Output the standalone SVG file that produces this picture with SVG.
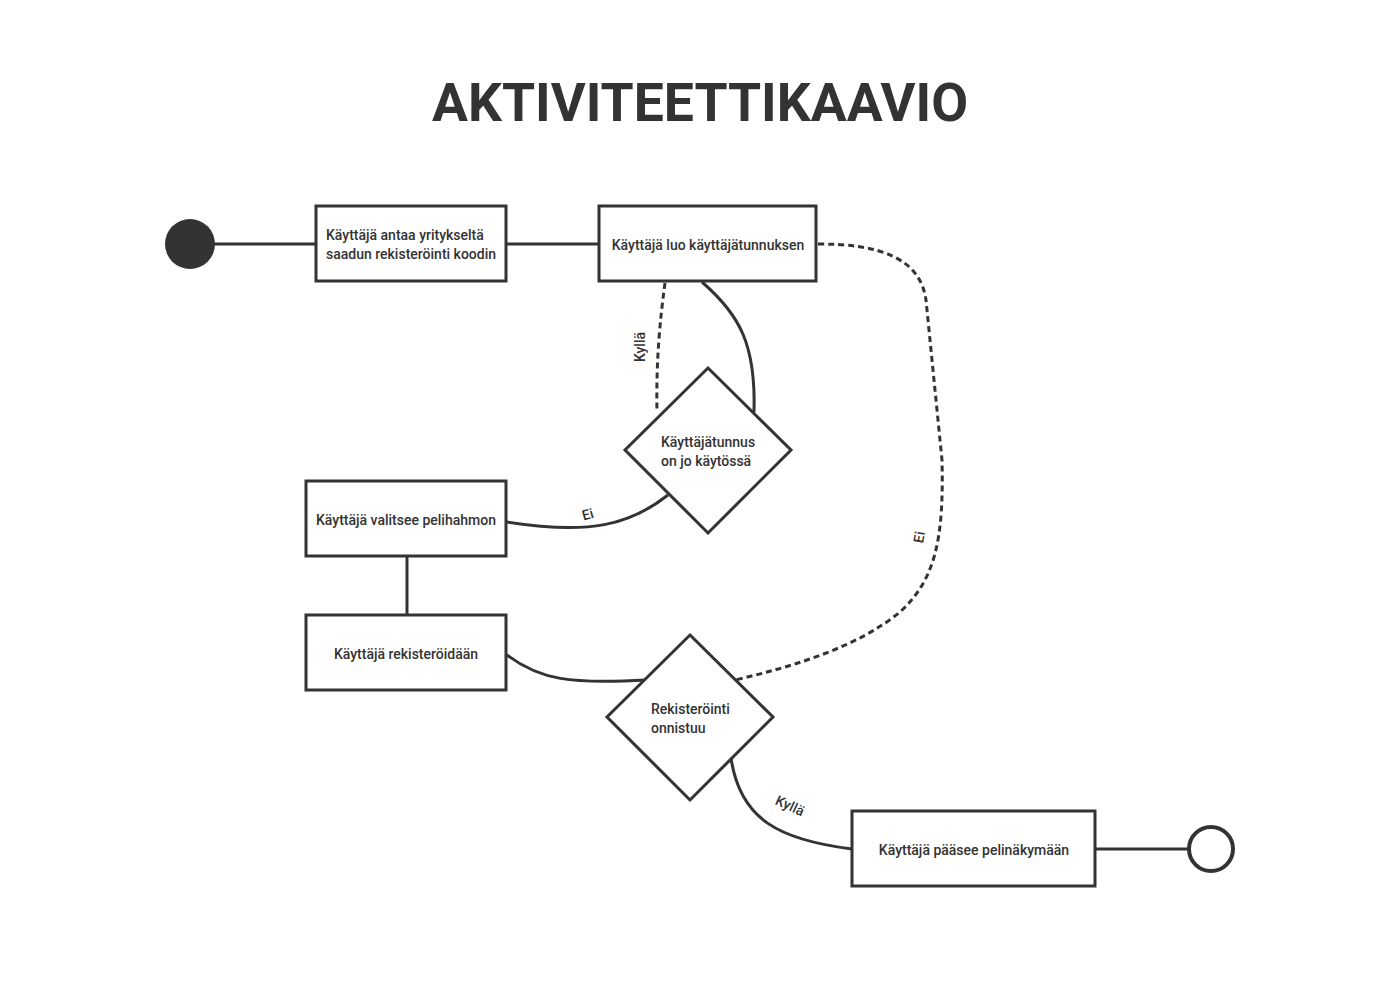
<svg xmlns="http://www.w3.org/2000/svg" width="1400" height="1000" viewBox="0 0 1400 1000">
<style>
.box{fill:#fff;stroke:#333;stroke-width:3}
.dia{fill:#fff;stroke:#333;stroke-width:3;stroke-linejoin:miter}
.t{font-family:Roboto,"Liberation Sans",sans-serif;font-size:14px;font-weight:500;fill:#333}
.c{text-anchor:middle}
.lbl{font-family:Roboto,"Liberation Sans",sans-serif;font-size:14px;font-weight:500;fill:#333;text-anchor:middle}
.ln{fill:none;stroke:#333;stroke-width:3}
.dash{fill:none;stroke:#333;stroke-width:3;stroke-dasharray:6 4}
</style>
<rect width="1400" height="1000" fill="#fff"/>
<text x="700" y="121" text-anchor="middle" font-family="Roboto,'Liberation Sans',sans-serif" font-size="53.5" font-weight="700" fill="#333">AKTIVITEETTIKAAVIO</text>
<g id="connectors">
<line class="ln" x1="214" y1="244" x2="316" y2="244"/>
<line class="ln" x1="506" y1="244" x2="599" y2="244"/>
<path class="dash" d="M818 244 C880 244 920 258 926 300 L942 460 C944 540 935 580 900 612 C860 645 800 665 735 680"/>
<path class="dash" d="M665 283 C660 320 656 360 657 412"/>
<path class="ln" d="M702 282 C740 315 756 345 754 412"/>
<path class="ln" d="M668 495 C630 525 590 535 507 522"/>
<line class="ln" x1="407" y1="556" x2="407" y2="615"/>
<path class="ln" d="M507 655 C540 680 570 684 646 680"/>
<path class="ln" d="M731 758 C740 820 780 840 852 849"/>
<line class="ln" x1="1095" y1="849" x2="1188" y2="849"/>
<text class="lbl" transform="translate(645,347) rotate(-90)">Kyllä</text>
<text class="lbl" transform="translate(589,519) rotate(-15)">Ei</text>
<text class="lbl" transform="translate(924,538) rotate(-80)">Ei</text>
<text class="lbl" transform="translate(788,810) rotate(25)">Kyllä</text>
</g>
<g id="start"><circle cx="190" cy="244" r="25" fill="#333"/></g>
<g id="n1"><rect class="box" x="316" y="206" width="190" height="75"/>
<text class="t" x="326" y="240">Käyttäjä antaa yritykseltä</text>
<text class="t" x="326" y="259">saadun rekisteröinti koodin</text></g>
<g id="n2"><rect class="box" x="599" y="206" width="217" height="75"/>
<text class="t c" x="708" y="250">Käyttäjä luo käyttäjätunnuksen</text></g>
<g id="d1"><polygon class="dia" points="708,368 791,450 708,533 625,450"/>
<text class="t" x="661" y="447">Käyttäjätunnus</text>
<text class="t" x="661" y="466">on jo käytössä</text></g>
<g id="n3"><rect class="box" x="306" y="481" width="200" height="75"/>
<text class="t c" x="406" y="525">Käyttäjä valitsee pelihahmon</text></g>
<g id="n4"><rect class="box" x="306" y="615" width="200" height="75"/>
<text class="t c" x="406" y="659">Käyttäjä rekisteröidään</text></g>
<g id="d2"><polygon class="dia" points="690,635 773,717 690,800 607,717"/>
<text class="t" x="651" y="714">Rekisteröinti</text>
<text class="t" x="651" y="733">onnistuu</text></g>
<g id="n5"><rect class="box" x="852" y="811" width="243" height="75"/>
<text class="t c" x="974" y="855">Käyttäjä pääsee pelinäkymään</text></g>
<g id="end"><circle cx="1211" cy="849" r="22" fill="#fff" stroke="#333" stroke-width="4"/></g>
</svg>
